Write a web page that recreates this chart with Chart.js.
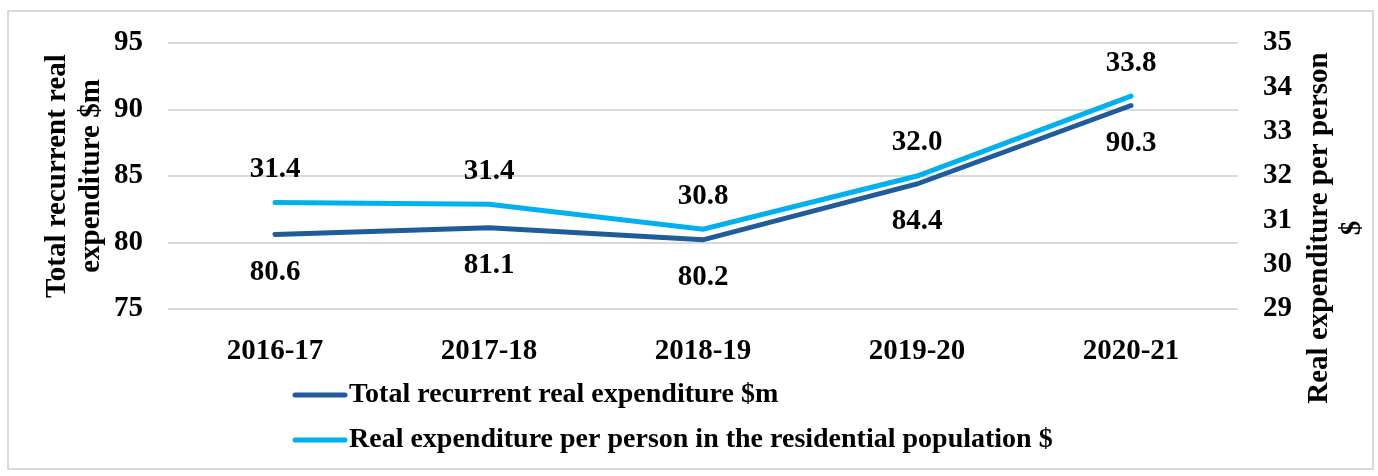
<!DOCTYPE html>
<html>
<head>
<meta charset="utf-8">
<script src="https://cdn.jsdelivr.net/npm/chart.js@4.4.1/dist/chart.umd.min.js"></script>
<style>
  html, body { margin: 0; padding: 0; background: #fff; }
  #wrap { position: relative; width: 1378px; height: 476px; }
</style>
</head>
<body>
<div id="wrap"><canvas id="chart" width="1378" height="476"></canvas></div>
<script>
const years = ["2016-17", "2017-18", "2018-19", "2019-20", "2020-21"];
const totalExpenditure = [80.6, 81.1, 80.2, 84.4, 90.3];
const perPersonExpenditure = [31.4, 31.36, 30.8, 32.0, 33.8];
const leftTicks = [75, 80, 85, 90, 95];
const rightTicks = [29, 30, 31, 32, 33, 34, 35];

const seriesNames = [
  "Total recurrent real expenditure $m",
  "Real expenditure per person in the residential population $"
];
const leftTitle = ["Total recurrent real", "expenditure $m"];
const rightTitle = ["Real expenditure per person", "$"];

const FONT = "'Liberation Serif', 'Times New Roman', serif";
const DARK = "#1f5c99";
const LIGHT = "#00b0f0";

// value labels, axis titles, legend and outer frame
const extras = {
  id: "extras",
  beforeDraw(chart) {
    const ctx = chart.ctx;
    ctx.save();
    ctx.strokeStyle = "#d9d9d9";
    ctx.lineWidth = 2;
    ctx.strokeRect(8, 11, 1365, 458);
    ctx.restore();
  },
  afterDatasetsDraw(chart) {
    const ctx = chart.ctx;
    ctx.save();
    ctx.font = "bold 29px " + FONT;
    ctx.fillStyle = "#000";
    ctx.textAlign = "center";
    ctx.textBaseline = "middle";
    chart.data.datasets.forEach((ds, i) => {
      const meta = chart.getDatasetMeta(i);
      meta.data.forEach((pt, j) => {
        const dy = i === 0 ? 38 : -33;
        ctx.fillText(ds.labelValues[j], pt.x, pt.y + dy);
      });
    });
    ctx.restore();
  },
  afterDraw(chart) {
    const ctx = chart.ctx;
    ctx.save();
    ctx.fillStyle = "#000";
    ctx.textAlign = "center";
    ctx.textBaseline = "middle";
    ctx.font = "bold 29px " + FONT;

    // left title
    ctx.save();
    ctx.translate(58, 176);
    ctx.rotate(-Math.PI / 2);
    ctx.fillText(leftTitle[0], 0, 0);
    ctx.fillText(leftTitle[1], 0, 34);
    ctx.restore();

    // right title (reads bottom to top)
    ctx.save();
    ctx.translate(1320, 228);
    ctx.rotate(-Math.PI / 2);
    ctx.fillText(rightTitle[0], 0, 0);
    ctx.fillText(rightTitle[1], 0, 33);
    ctx.restore();

    // legend
    ctx.textAlign = "left";
    ctx.font = "bold 28px " + FONT;
    const colors = [DARK, LIGHT];
    const rows = [395, 440];
    seriesNames.forEach((name, i) => {
      ctx.strokeStyle = colors[i];
      ctx.lineWidth = 5;
      ctx.lineCap = "round";
      ctx.beginPath();
      ctx.moveTo(295, rows[i]);
      ctx.lineTo(345, rows[i]);
      ctx.stroke();
      ctx.fillText(name, 349, rows[i]);
    });
    ctx.restore();
  }
};

new Chart(document.getElementById("chart"), {
  type: "line",
  data: {
    labels: years,
    datasets: [
      {
        label: seriesNames[0],
        data: totalExpenditure,
        labelValues: totalExpenditure.map(v => v.toFixed(1)),
        borderColor: DARK,
        backgroundColor: DARK,
        borderWidth: 5,
        borderCapStyle: "round",
        pointRadius: 0,
        tension: 0,
        yAxisID: "y"
      },
      {
        label: seriesNames[1],
        data: perPersonExpenditure,
        labelValues: perPersonExpenditure.map(v => v.toFixed(1)),
        borderColor: LIGHT,
        backgroundColor: LIGHT,
        borderWidth: 5,
        borderCapStyle: "round",
        pointRadius: 0,
        tension: 0,
        yAxisID: "y1"
      }
    ]
  },
  options: {
    responsive: false,
    animation: false,
    layout: { padding: { top: 43, bottom: 107, left: 0, right: 0 } },
    plugins: {
      legend: { display: false },
      tooltip: { enabled: false }
    },
    scales: {
      x: {
        offset: true,
        grid: { display: false },
        border: { display: false },
        ticks: {
          color: "#000",
          padding: 17,
          maxRotation: 0,
          font: { family: FONT, size: 29, weight: "bold" }
        },
        afterFit(scale) { scale.height = 60; }
      },
      y: {
        position: "left",
        min: leftTicks[0],
        max: leftTicks[leftTicks.length - 1],
        afterBuildTicks(scale) { scale.ticks = leftTicks.map(v => ({ value: v })); },
        grid: { color: "#d9d9d9", lineWidth: 2, drawTicks: false },
        border: { display: false },
        ticks: {
          color: "#000",
          padding: 25,
          font: { family: FONT, size: 29, weight: "bold" }
        },
        afterFit(scale) { scale.width = 168; }
      },
      y1: {
        position: "right",
        min: rightTicks[0],
        max: rightTicks[rightTicks.length - 1],
        afterBuildTicks(scale) { scale.ticks = rightTicks.map(v => ({ value: v })); },
        grid: { display: false, drawTicks: false },
        border: { display: false },
        ticks: {
          color: "#000",
          padding: 25,
          font: { family: FONT, size: 29, weight: "bold" }
        },
        afterFit(scale) { scale.width = 140; }
      }
    }
  },
  plugins: [extras]
});
</script>
</body>
</html>
